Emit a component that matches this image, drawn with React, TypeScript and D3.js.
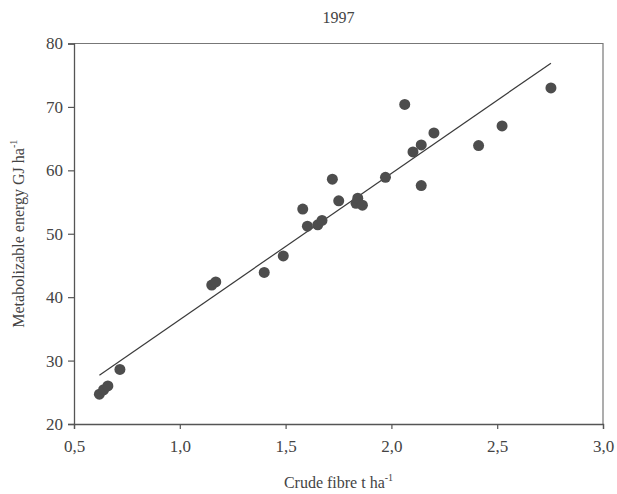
import React, { useEffect, useRef } from 'react';
import * as d3 from 'd3';

// crude fibre (t/ha) vs metabolizable energy (GJ/ha), 1997
const fibre = [
  0.62, 0.64, 0.66, 0.717, 1.151, 1.17, 1.399, 1.489, 1.581, 1.603, 1.652, 1.672, 1.721,
  1.751, 1.833, 1.841, 1.863, 1.972, 2.063, 2.102, 2.141, 2.201, 2.141, 2.412, 2.523, 2.754,
];
const energy = [
  24.7, 25.4, 26.0, 28.6, 41.9, 42.4, 43.9, 46.5, 53.9, 51.2, 51.4, 52.1, 58.6,
  55.2, 54.8, 55.6, 54.5, 58.9, 70.4, 62.9, 64.0, 65.9, 57.6, 63.9, 67.0, 73.0,
];
// fitted regression line end points
const fitX = [0.62, 2.754];
const fitY = [27.7, 76.9];

const xTicks = [0.5, 1.0, 1.5, 2.0, 2.5, 3.0];
const yTicks = [20, 30, 40, 50, 60, 70, 80];

const W = 617;
const H = 494;
const FONT = '"Liberation Serif", "Times New Roman", serif';

const App: React.FC = () => {
  const svgRef = useRef<SVGSVGElement>(null);

  useEffect(() => {
    if (!svgRef.current) return;
    const svg = d3.select(svgRef.current);
    svg.selectAll('*').remove();

    const left = 74, right = 603, top = 43.5, bottom = 424;
    const x = d3.scaleLinear().domain([0.5, 3.0]).range([left, right]);
    const y = d3.scaleLinear().domain([20, 80]).range([bottom, top]);
    const axisColor = '#555';

    // frame (top and right)
    svg.append('path')
      .attr('d', `M${left},${top}H${right}V${bottom}`)
      .attr('fill', 'none')
      .attr('stroke', '#777')
      .attr('stroke-width', 1.2);

    const fmt = (d: number) => d3.format('.1f')(d).replace('.', ',');

    const xAxis = svg.append('g')
      .attr('transform', `translate(0,${bottom})`)
      .call(d3.axisBottom(x).tickValues(xTicks).tickFormat(d => fmt(d as number)).tickSizeOuter(0).tickSize(5).tickPadding(11));
    const yAxis = svg.append('g')
      .attr('transform', `translate(${left},0)`)
      .call(d3.axisLeft(y).tickValues(yTicks).tickFormat(d3.format('d')).tickSizeOuter(0).tickSize(6).tickPadding(5));

    [xAxis, yAxis].forEach(g => {
      g.select('.domain').attr('stroke', axisColor).attr('stroke-width', 1.3);
      g.selectAll('line').attr('stroke', axisColor).attr('stroke-width', 1.2);
      g.selectAll('text')
        .attr('fill', '#444')
        .attr('font-family', FONT)
        .attr('font-size', 17);
    });

    // regression line
    const line = d3.line<number>()
      .x((d, i) => x(fitX[i]))
      .y(d => y(d));
    svg.append('path')
      .datum(fitY)
      .attr('d', line)
      .attr('fill', 'none')
      .attr('stroke', '#3a3a3a')
      .attr('stroke-width', 1.2);

    // points
    svg.selectAll('.pt')
      .data(fibre)
      .enter()
      .append('circle')
      .attr('class', 'pt')
      .attr('cx', d => x(d))
      .attr('cy', (d, i) => y(energy[i]))
      .attr('r', 5.5)
      .attr('fill', '#4d4d4d');

    // title
    svg.append('text')
      .attr('x', (left + right) / 2)
      .attr('y', 23)
      .attr('text-anchor', 'middle')
      .attr('font-family', FONT)
      .attr('font-size', 16)
      .attr('fill', '#444')
      .text('1997');

    // x label
    const xl = svg.append('text')
      .attr('x', (left + right) / 2)
      .attr('y', 488)
      .attr('text-anchor', 'middle')
      .attr('font-family', FONT)
      .attr('font-size', 16)
      .attr('fill', '#444');
    xl.append('tspan').text('Crude fibre t ha');
    xl.append('tspan').attr('dy', -7).attr('font-size', 10).text('-1');

    // y label
    const yl = svg.append('text')
      .attr('transform', `translate(24,${(top + bottom) / 2}) rotate(-90)`)
      .attr('text-anchor', 'middle')
      .attr('font-family', FONT)
      .attr('font-size', 16)
      .attr('fill', '#444');
    yl.append('tspan').text('Metabolizable energy GJ ha');
    yl.append('tspan').attr('dy', -7).attr('font-size', 10).text('-1');
  }, []);

  return (
    <svg
      ref={svgRef}
      width={W}
      height={H}
      style={{ position: 'absolute', left: 0, top: 0, background: '#fff' }}
    />
  );
};

export default App;
